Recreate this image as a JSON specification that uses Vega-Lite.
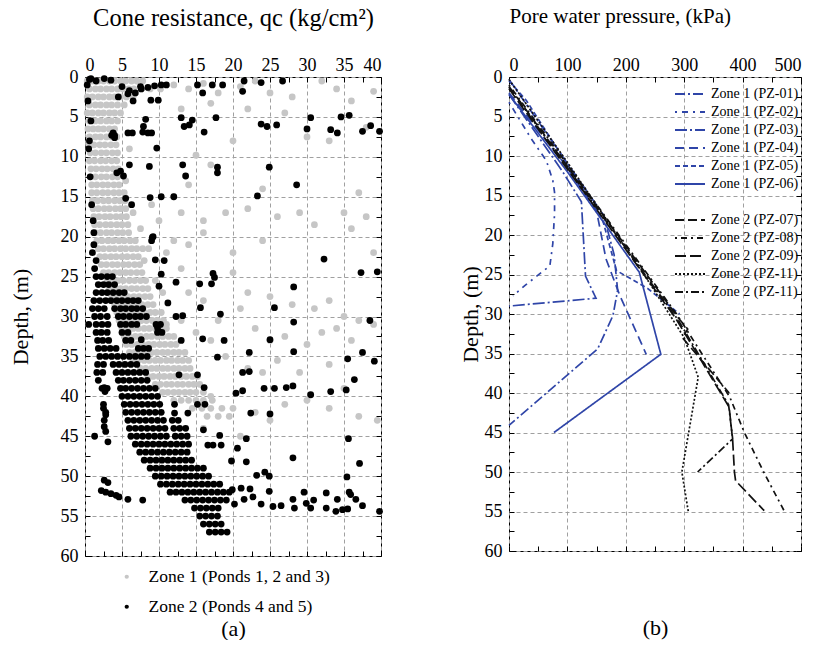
{
"$schema":"https://vega.github.io/schema/vega-lite/v6.json",
"padding":{"left":8,"top":4,"right":5,"bottom":0},
"spacing":74,
"resolve":{"scale":{"color":"independent","strokeDash":"independent"},"legend":{"color":"independent","strokeDash":"independent"}},
"config":{"font":"Liberation Serif","view":{"stroke":"#000","strokeWidth":1},
"axis":{"labelFont":"Liberation Serif","titleFont":"Liberation Serif","labelFontSize":18,"titleFontSize":22,"titleFontWeight":"normal","labelColor":"#000","titleColor":"#000","tickColor":"#000","domain":false,"gridColor":"#a0a0a0","gridDash":[4,3],"gridWidth":1}},
"hconcat":[
{"width":296,"height":479,
"data":{"values":[
{"z":1,"q":0.3,"d":0.5},{"z":1,"q":1.0,"d":0.5},{"z":1,"q":1.8,"d":0.5},{"z":1,"q":2.5,"d":0.5},{"z":1,"q":3.3,"d":0.5},{"z":1,"q":4.0,"d":0.5},{"z":1,"q":4.8,"d":0.5},{"z":1,"q":5.5,"d":0.5},{"z":1,"q":6.3,"d":0.5},{"z":1,"q":7.0,"d":0.5},{"z":1,"q":7.8,"d":0.5},
{"z":1,"q":0.6,"d":1.5},{"z":1,"q":1.4,"d":1.5},{"z":1,"q":2.1,"d":1.5},{"z":1,"q":2.9,"d":1.5},{"z":1,"q":3.6,"d":1.5},{"z":1,"q":4.4,"d":1.5},{"z":1,"q":5.1,"d":1.5},{"z":1,"q":5.9,"d":1.5},{"z":1,"q":6.6,"d":1.5},{"z":1,"q":7.6,"d":1.5},{"z":1,"q":8.8,"d":1.5},{"z":1,"q":10.2,"d":1.5},
{"z":1,"q":0.3,"d":2.5},{"z":1,"q":1.0,"d":2.5},{"z":1,"q":1.8,"d":2.5},{"z":1,"q":2.5,"d":2.5},{"z":1,"q":3.3,"d":2.5},{"z":1,"q":4.0,"d":2.5},{"z":1,"q":4.8,"d":2.5},{"z":1,"q":5.6,"d":2.5},{"z":1,"q":6.5,"d":2.5},
{"z":1,"q":0.6,"d":3.5},{"z":1,"q":1.4,"d":3.5},{"z":1,"q":2.1,"d":3.5},{"z":1,"q":2.9,"d":3.5},{"z":1,"q":3.6,"d":3.5},{"z":1,"q":4.4,"d":3.5},{"z":1,"q":5.3,"d":3.5},
{"z":1,"q":0.3,"d":4.5},{"z":1,"q":1.0,"d":4.5},{"z":1,"q":1.8,"d":4.5},{"z":1,"q":2.5,"d":4.5},{"z":1,"q":3.3,"d":4.5},{"z":1,"q":4.0,"d":4.5},{"z":1,"q":4.8,"d":4.5},
{"z":1,"q":0.6,"d":5.5},{"z":1,"q":1.4,"d":5.5},{"z":1,"q":2.1,"d":5.5},{"z":1,"q":2.9,"d":5.5},{"z":1,"q":3.6,"d":5.5},{"z":1,"q":4.4,"d":5.5},
{"z":1,"q":0.4,"d":6.5},{"z":1,"q":1.1,"d":6.5},{"z":1,"q":1.8,"d":6.5},{"z":1,"q":2.5,"d":6.5},{"z":1,"q":3.3,"d":6.5},{"z":1,"q":4.0,"d":6.5},
{"z":1,"q":0.6,"d":7.5},{"z":1,"q":1.4,"d":7.5},{"z":1,"q":2.1,"d":7.5},{"z":1,"q":2.9,"d":7.5},{"z":1,"q":3.6,"d":7.5},{"z":1,"q":4.3,"d":7.5},
{"z":1,"q":0.5,"d":8.5},{"z":1,"q":1.2,"d":8.5},{"z":1,"q":2.0,"d":8.5},{"z":1,"q":2.7,"d":8.5},{"z":1,"q":3.5,"d":8.5},{"z":1,"q":4.2,"d":8.5},
{"z":1,"q":0.7,"d":9.5},{"z":1,"q":1.4,"d":9.5},{"z":1,"q":2.2,"d":9.5},{"z":1,"q":2.9,"d":9.5},{"z":1,"q":3.7,"d":9.5},{"z":1,"q":4.4,"d":9.5},
{"z":1,"q":0.6,"d":10.5},{"z":1,"q":1.3,"d":10.5},{"z":1,"q":2.1,"d":10.5},{"z":1,"q":2.8,"d":10.5},{"z":1,"q":3.6,"d":10.5},{"z":1,"q":4.3,"d":10.5},
{"z":1,"q":0.8,"d":11.5},{"z":1,"q":1.5,"d":11.5},{"z":1,"q":2.3,"d":11.5},{"z":1,"q":3.0,"d":11.5},{"z":1,"q":3.8,"d":11.5},{"z":1,"q":4.5,"d":11.5},
{"z":1,"q":0.7,"d":12.5},{"z":1,"q":1.4,"d":12.5},{"z":1,"q":2.2,"d":12.5},{"z":1,"q":2.9,"d":12.5},{"z":1,"q":3.7,"d":12.5},{"z":1,"q":4.4,"d":12.5},
{"z":1,"q":0.9,"d":13.5},{"z":1,"q":1.6,"d":13.5},{"z":1,"q":2.4,"d":13.5},{"z":1,"q":3.1,"d":13.5},{"z":1,"q":3.9,"d":13.5},{"z":1,"q":4.6,"d":13.5},
{"z":1,"q":0.9,"d":14.5},{"z":1,"q":1.6,"d":14.5},{"z":1,"q":2.4,"d":14.5},{"z":1,"q":3.1,"d":14.5},{"z":1,"q":3.9,"d":14.5},{"z":1,"q":4.6,"d":14.5},{"z":1,"q":5.3,"d":14.5},
{"z":1,"q":1.0,"d":15.5},{"z":1,"q":1.7,"d":15.5},{"z":1,"q":2.5,"d":15.5},{"z":1,"q":3.2,"d":15.5},{"z":1,"q":4.0,"d":15.5},{"z":1,"q":4.7,"d":15.5},{"z":1,"q":5.4,"d":15.5},
{"z":1,"q":1.1,"d":16.5},{"z":1,"q":1.8,"d":16.5},{"z":1,"q":2.6,"d":16.5},{"z":1,"q":3.3,"d":16.5},{"z":1,"q":4.1,"d":16.5},{"z":1,"q":4.8,"d":16.5},{"z":1,"q":5.5,"d":16.5},
{"z":1,"q":1.2,"d":17.5},{"z":1,"q":1.9,"d":17.5},{"z":1,"q":2.7,"d":17.5},{"z":1,"q":3.4,"d":17.5},{"z":1,"q":4.2,"d":17.5},{"z":1,"q":4.9,"d":17.5},{"z":1,"q":5.6,"d":17.5},
{"z":1,"q":1.3,"d":18.5},{"z":1,"q":2.0,"d":18.5},{"z":1,"q":2.8,"d":18.5},{"z":1,"q":3.5,"d":18.5},{"z":1,"q":4.3,"d":18.5},{"z":1,"q":5.0,"d":18.5},{"z":1,"q":5.8,"d":18.5},
{"z":1,"q":1.4,"d":19.5},{"z":1,"q":2.1,"d":19.5},{"z":1,"q":2.9,"d":19.5},{"z":1,"q":3.6,"d":19.5},{"z":1,"q":4.4,"d":19.5},{"z":1,"q":5.1,"d":19.5},{"z":1,"q":5.9,"d":19.5},
{"z":1,"q":1.6,"d":20.5},{"z":1,"q":2.3,"d":20.5},{"z":1,"q":3.1,"d":20.5},{"z":1,"q":3.8,"d":20.5},{"z":1,"q":4.6,"d":20.5},{"z":1,"q":5.3,"d":20.5},{"z":1,"q":6.1,"d":20.5},{"z":1,"q":6.8,"d":20.5},
{"z":1,"q":1.8,"d":21.5},{"z":1,"q":2.5,"d":21.5},{"z":1,"q":3.3,"d":21.5},{"z":1,"q":4.0,"d":21.5},{"z":1,"q":4.8,"d":21.5},{"z":1,"q":5.5,"d":21.5},{"z":1,"q":6.3,"d":21.5},{"z":1,"q":7.0,"d":21.5},{"z":1,"q":7.8,"d":21.5},{"z":1,"q":8.6,"d":21.5},
{"z":1,"q":2.0,"d":22.5},{"z":1,"q":2.7,"d":22.5},{"z":1,"q":3.5,"d":22.5},{"z":1,"q":4.2,"d":22.5},{"z":1,"q":5.0,"d":22.5},{"z":1,"q":5.7,"d":22.5},{"z":1,"q":6.5,"d":22.5},{"z":1,"q":7.2,"d":22.5},
{"z":1,"q":2.2,"d":23.5},{"z":1,"q":2.9,"d":23.5},{"z":1,"q":3.7,"d":23.5},{"z":1,"q":4.4,"d":23.5},{"z":1,"q":5.2,"d":23.5},{"z":1,"q":5.9,"d":23.5},{"z":1,"q":6.7,"d":23.5},{"z":1,"q":7.4,"d":23.5},
{"z":1,"q":2.5,"d":24.5},{"z":1,"q":3.2,"d":24.5},{"z":1,"q":4.0,"d":24.5},{"z":1,"q":4.7,"d":24.5},{"z":1,"q":5.5,"d":24.5},{"z":1,"q":6.2,"d":24.5},{"z":1,"q":7.0,"d":24.5},{"z":1,"q":7.7,"d":24.5},
{"z":1,"q":3.0,"d":25.5},{"z":1,"q":3.7,"d":25.5},{"z":1,"q":4.5,"d":25.5},{"z":1,"q":5.2,"d":25.5},{"z":1,"q":6.0,"d":25.5},{"z":1,"q":6.7,"d":25.5},{"z":1,"q":7.5,"d":25.5},{"z":1,"q":8.2,"d":25.5},
{"z":1,"q":3.3,"d":26.5},{"z":1,"q":4.0,"d":26.5},{"z":1,"q":4.8,"d":26.5},{"z":1,"q":5.5,"d":26.5},{"z":1,"q":6.3,"d":26.5},{"z":1,"q":7.0,"d":26.5},{"z":1,"q":7.8,"d":26.5},{"z":1,"q":8.5,"d":26.5},
{"z":1,"q":3.6,"d":27.5},{"z":1,"q":4.3,"d":27.5},{"z":1,"q":5.1,"d":27.5},{"z":1,"q":5.8,"d":27.5},{"z":1,"q":6.6,"d":27.5},{"z":1,"q":7.3,"d":27.5},{"z":1,"q":8.1,"d":27.5},{"z":1,"q":8.8,"d":27.5},
{"z":1,"q":4.0,"d":28.5},{"z":1,"q":4.7,"d":28.5},{"z":1,"q":5.5,"d":28.5},{"z":1,"q":6.2,"d":28.5},{"z":1,"q":7.0,"d":28.5},{"z":1,"q":7.7,"d":28.5},{"z":1,"q":8.5,"d":28.5},{"z":1,"q":9.2,"d":28.5},
{"z":1,"q":4.3,"d":29.5},{"z":1,"q":5.0,"d":29.5},{"z":1,"q":5.8,"d":29.5},{"z":1,"q":6.5,"d":29.5},{"z":1,"q":7.3,"d":29.5},{"z":1,"q":8.0,"d":29.5},{"z":1,"q":8.8,"d":29.5},{"z":1,"q":9.5,"d":29.5},{"z":1,"q":10.3,"d":29.5},
{"z":1,"q":4.6,"d":30.5},{"z":1,"q":5.3,"d":30.5},{"z":1,"q":6.1,"d":30.5},{"z":1,"q":6.8,"d":30.5},{"z":1,"q":7.6,"d":30.5},{"z":1,"q":8.3,"d":30.5},{"z":1,"q":9.1,"d":30.5},{"z":1,"q":9.8,"d":30.5},{"z":1,"q":10.6,"d":30.5},
{"z":1,"q":5.0,"d":31.5},{"z":1,"q":5.7,"d":31.5},{"z":1,"q":6.5,"d":31.5},{"z":1,"q":7.2,"d":31.5},{"z":1,"q":8.0,"d":31.5},{"z":1,"q":8.7,"d":31.5},{"z":1,"q":9.5,"d":31.5},{"z":1,"q":10.2,"d":31.5},{"z":1,"q":11.0,"d":31.5},
{"z":1,"q":5.3,"d":32.5},{"z":1,"q":6.0,"d":32.5},{"z":1,"q":6.8,"d":32.5},{"z":1,"q":7.5,"d":32.5},{"z":1,"q":8.3,"d":32.5},{"z":1,"q":9.0,"d":32.5},{"z":1,"q":9.8,"d":32.5},{"z":1,"q":10.5,"d":32.5},{"z":1,"q":11.3,"d":32.5},{"z":1,"q":12.0,"d":32.5},
{"z":1,"q":5.6,"d":33.5},{"z":1,"q":6.3,"d":33.5},{"z":1,"q":7.1,"d":33.5},{"z":1,"q":7.8,"d":33.5},{"z":1,"q":8.6,"d":33.5},{"z":1,"q":9.3,"d":33.5},{"z":1,"q":10.1,"d":33.5},{"z":1,"q":10.8,"d":33.5},{"z":1,"q":11.6,"d":33.5},{"z":1,"q":12.3,"d":33.5},
{"z":1,"q":6.0,"d":34.5},{"z":1,"q":6.7,"d":34.5},{"z":1,"q":7.5,"d":34.5},{"z":1,"q":8.2,"d":34.5},{"z":1,"q":9.0,"d":34.5},{"z":1,"q":9.7,"d":34.5},{"z":1,"q":10.5,"d":34.5},{"z":1,"q":11.2,"d":34.5},{"z":1,"q":12.0,"d":34.5},{"z":1,"q":12.7,"d":34.5},{"z":1,"q":13.5,"d":34.5},
{"z":1,"q":6.5,"d":35.5},{"z":1,"q":7.2,"d":35.5},{"z":1,"q":8.0,"d":35.5},{"z":1,"q":8.7,"d":35.5},{"z":1,"q":9.5,"d":35.5},{"z":1,"q":10.2,"d":35.5},{"z":1,"q":11.0,"d":35.5},{"z":1,"q":11.7,"d":35.5},{"z":1,"q":12.5,"d":35.5},{"z":1,"q":13.2,"d":35.5},{"z":1,"q":14.0,"d":35.5},
{"z":1,"q":7.5,"d":36.5},{"z":1,"q":8.2,"d":36.5},{"z":1,"q":9.0,"d":36.5},{"z":1,"q":9.7,"d":36.5},{"z":1,"q":10.5,"d":36.5},{"z":1,"q":11.2,"d":36.5},{"z":1,"q":12.0,"d":36.5},{"z":1,"q":12.7,"d":36.5},{"z":1,"q":13.5,"d":36.5},{"z":1,"q":14.2,"d":36.5},
{"z":1,"q":8.5,"d":37.5},{"z":1,"q":9.2,"d":37.5},{"z":1,"q":10.0,"d":37.5},{"z":1,"q":10.7,"d":37.5},{"z":1,"q":11.5,"d":37.5},{"z":1,"q":12.2,"d":37.5},{"z":1,"q":13.0,"d":37.5},{"z":1,"q":13.7,"d":37.5},{"z":1,"q":14.5,"d":37.5},{"z":1,"q":15.2,"d":37.5},
{"z":1,"q":9.5,"d":38.5},{"z":1,"q":10.2,"d":38.5},{"z":1,"q":11.0,"d":38.5},{"z":1,"q":11.7,"d":38.5},{"z":1,"q":12.5,"d":38.5},{"z":1,"q":13.2,"d":38.5},{"z":1,"q":14.0,"d":38.5},{"z":1,"q":14.7,"d":38.5},{"z":1,"q":15.5,"d":38.5},
{"z":1,"q":10.5,"d":39.5},{"z":1,"q":11.2,"d":39.5},{"z":1,"q":12.0,"d":39.5},{"z":1,"q":12.7,"d":39.5},{"z":1,"q":13.5,"d":39.5},{"z":1,"q":14.2,"d":39.5},{"z":1,"q":15.0,"d":39.5},{"z":1,"q":16.0,"d":39.5},
{"z":1,"q":12.0,"d":40.5},{"z":1,"q":13.0,"d":40.5},{"z":1,"q":14.0,"d":40.5},{"z":1,"q":15.0,"d":40.5},{"z":1,"q":16.0,"d":40.5},{"z":1,"q":17.2,"d":40.5},
{"z":1,"q":14.5,"d":41.5},{"z":1,"q":15.8,"d":41.5},{"z":1,"q":17.0,"d":41.5},{"z":1,"q":18.5,"d":41.5},
{"z":1,"q":16.5,"d":42.5},{"z":1,"q":18.0,"d":42.5},{"z":1,"q":19.5,"d":42.5},
{"z":1,"q":12,"d":1},{"z":1,"q":14,"d":1.5},{"z":1,"q":16,"d":0.8},{"z":1,"q":18,"d":2},{"z":1,"q":21,"d":1.2},{"z":1,"q":23,"d":0.5},{"z":1,"q":25,"d":2},{"z":1,"q":28,"d":2.5},{"z":1,"q":32,"d":0.5},{"z":1,"q":34,"d":1.5},{"z":1,"q":36,"d":3},{"z":1,"q":39,"d":1.8},{"z":1,"q":13,"d":4},{"z":1,"q":17,"d":3.3},{"z":1,"q":22,"d":4},{"z":1,"q":27,"d":4.5},{"z":1,"q":38,"d":6.3},{"z":1,"q":33,"d":8},{"z":1,"q":30,"d":7.5},{"z":1,"q":15,"d":9.8},{"z":1,"q":17,"d":11},{"z":1,"q":20,"d":8},{"z":1,"q":14,"d":13.5},{"z":1,"q":24,"d":14},{"z":1,"q":37,"d":14.5},{"z":1,"q":12,"d":15},{"z":1,"q":9,"d":16},{"z":1,"q":13,"d":17},{"z":1,"q":16,"d":18},{"z":1,"q":19,"d":17},{"z":1,"q":22,"d":16.5},{"z":1,"q":26,"d":17.5},{"z":1,"q":29,"d":17},{"z":1,"q":31,"d":18.5},{"z":1,"q":35,"d":17},{"z":1,"q":38,"d":17.5},{"z":1,"q":36,"d":19},{"z":1,"q":39,"d":22},{"z":1,"q":12,"d":20.5},{"z":1,"q":14,"d":21},{"z":1,"q":16,"d":19.5},{"z":1,"q":20,"d":22},{"z":1,"q":24,"d":20.5},{"z":1,"q":7.5,"d":19},{"z":1,"q":10,"d":18},{"z":1,"q":11,"d":22},{"z":1,"q":13,"d":24},{"z":1,"q":20,"d":24.5},{"z":1,"q":22,"d":27},{"z":1,"q":25,"d":27.5},{"z":1,"q":28,"d":28.5},{"z":1,"q":31,"d":29},{"z":1,"q":33,"d":28},{"z":1,"q":35,"d":30},{"z":1,"q":37,"d":30.5},{"z":1,"q":39,"d":31},{"z":1,"q":14,"d":27},{"z":1,"q":16,"d":28},{"z":1,"q":18,"d":30.5},{"z":1,"q":21,"d":29},{"z":1,"q":23,"d":31.5},{"z":1,"q":25,"d":33},{"z":1,"q":27,"d":32.5},{"z":1,"q":30,"d":33.5},{"z":1,"q":32,"d":32},{"z":1,"q":34,"d":31.5},{"z":1,"q":36,"d":33},{"z":1,"q":11,"d":31},{"z":1,"q":13,"d":30.5},{"z":1,"q":15,"d":32},{"z":1,"q":17,"d":33},{"z":1,"q":19,"d":35},{"z":1,"q":22,"d":36.5},{"z":1,"q":24,"d":37},{"z":1,"q":26,"d":35.5},{"z":1,"q":29,"d":37},{"z":1,"q":33,"d":36},{"z":1,"q":35,"d":39},{"z":1,"q":17,"d":40},{"z":1,"q":20,"d":41.5},{"z":1,"q":23,"d":42},{"z":1,"q":25,"d":43},{"z":1,"q":27,"d":41},{"z":1,"q":30,"d":40.5},{"z":1,"q":33,"d":41.5},{"z":1,"q":37,"d":42.5},{"z":1,"q":39.5,"d":43},{"z":1,"q":16,"d":44},{"z":1,"q":21,"d":45},{"z":1,"q":6,"d":9},{"z":1,"q":5.5,"d":13},{"z":1,"q":6.5,"d":17},{"z":1,"q":8,"d":23},{"z":1,"q":9.5,"d":25.5},{"z":1,"q":10.5,"d":27},
{"z":2,"q":1.5,"d":25},{"z":2,"q":2.2,"d":25},{"z":2,"q":3.0,"d":25},{"z":2,"q":3.7,"d":25},
{"z":2,"q":1.8,"d":26},{"z":2,"q":2.5,"d":26},{"z":2,"q":3.2,"d":26},{"z":2,"q":4.0,"d":26},
{"z":2,"q":1.5,"d":27},{"z":2,"q":2.3,"d":27},{"z":2,"q":3.0,"d":27},{"z":2,"q":3.8,"d":27},{"z":2,"q":4.6,"d":27},{"z":2,"q":5.3,"d":27},
{"z":2,"q":1.2,"d":28},{"z":2,"q":2.0,"d":28},{"z":2,"q":2.8,"d":28},{"z":2,"q":3.5,"d":28},{"z":2,"q":4.3,"d":28},{"z":2,"q":5.0,"d":28},{"z":2,"q":5.8,"d":28},{"z":2,"q":6.5,"d":28},{"z":2,"q":7.2,"d":28},
{"z":2,"q":1.0,"d":29},{"z":2,"q":1.8,"d":29},{"z":2,"q":2.6,"d":29},{"z":2,"q":4.0,"d":29},{"z":2,"q":4.8,"d":29},{"z":2,"q":5.5,"d":29},{"z":2,"q":6.3,"d":29},{"z":2,"q":7.0,"d":29},{"z":2,"q":7.8,"d":29},
{"z":2,"q":1.3,"d":30},{"z":2,"q":2.1,"d":30},{"z":2,"q":3.0,"d":30},{"z":2,"q":4.5,"d":30},{"z":2,"q":5.2,"d":30},{"z":2,"q":6.0,"d":30},{"z":2,"q":6.8,"d":30},{"z":2,"q":7.5,"d":30},{"z":2,"q":8.3,"d":30},
{"z":2,"q":1.5,"d":31},{"z":2,"q":2.3,"d":31},{"z":2,"q":3.1,"d":31},{"z":2,"q":4.8,"d":31},{"z":2,"q":5.5,"d":31},{"z":2,"q":6.3,"d":31},{"z":2,"q":7.0,"d":31},{"z":2,"q":9.6,"d":31},{"z":2,"q":10.2,"d":31},
{"z":2,"q":1.5,"d":32},{"z":2,"q":2.2,"d":32},{"z":2,"q":3.0,"d":32},{"z":2,"q":5.0,"d":32},{"z":2,"q":5.8,"d":32},{"z":2,"q":9.8,"d":32},{"z":2,"q":10.4,"d":32},
{"z":2,"q":1.7,"d":33},{"z":2,"q":2.4,"d":33},{"z":2,"q":3.2,"d":33},{"z":2,"q":5.5,"d":33},{"z":2,"q":6.2,"d":33},
{"z":2,"q":1.8,"d":34},{"z":2,"q":2.6,"d":34},{"z":2,"q":3.4,"d":34},{"z":2,"q":4.2,"d":34},{"z":2,"q":7.2,"d":34},{"z":2,"q":7.9,"d":34},{"z":2,"q":8.6,"d":34},
{"z":2,"q":2.0,"d":35},{"z":2,"q":2.8,"d":35},{"z":2,"q":3.6,"d":35},{"z":2,"q":4.4,"d":35},{"z":2,"q":5.2,"d":35},{"z":2,"q":6.0,"d":35},{"z":2,"q":6.8,"d":35},{"z":2,"q":7.6,"d":35},{"z":2,"q":8.4,"d":35},
{"z":2,"q":1.7,"d":36},{"z":2,"q":2.5,"d":36},{"z":2,"q":3.8,"d":36},{"z":2,"q":4.6,"d":36},{"z":2,"q":5.4,"d":36},{"z":2,"q":6.2,"d":36},{"z":2,"q":7.0,"d":36},
{"z":2,"q":1.6,"d":37},{"z":2,"q":2.4,"d":37},{"z":2,"q":4.2,"d":37},{"z":2,"q":5.0,"d":37},{"z":2,"q":5.8,"d":37},{"z":2,"q":6.6,"d":37},{"z":2,"q":7.4,"d":37},{"z":2,"q":8.2,"d":37},
{"z":2,"q":1.8,"d":38},{"z":2,"q":4.5,"d":38},{"z":2,"q":5.2,"d":38},{"z":2,"q":6.0,"d":38},{"z":2,"q":6.8,"d":38},{"z":2,"q":7.6,"d":38},{"z":2,"q":8.4,"d":38},
{"z":2,"q":2.3,"d":39},{"z":2,"q":3.0,"d":39},{"z":2,"q":4.8,"d":39},{"z":2,"q":5.5,"d":39},{"z":2,"q":6.3,"d":39},{"z":2,"q":7.1,"d":39},{"z":2,"q":7.9,"d":39},{"z":2,"q":8.7,"d":39},{"z":2,"q":9.5,"d":39},
{"z":2,"q":5.0,"d":40},{"z":2,"q":5.8,"d":40},{"z":2,"q":6.6,"d":40},{"z":2,"q":7.4,"d":40},{"z":2,"q":8.2,"d":40},{"z":2,"q":9.0,"d":40},{"z":2,"q":9.8,"d":40},
{"z":2,"q":2.5,"d":41},{"z":2,"q":5.3,"d":41},{"z":2,"q":6.1,"d":41},{"z":2,"q":6.9,"d":41},{"z":2,"q":7.7,"d":41},{"z":2,"q":8.5,"d":41},{"z":2,"q":9.3,"d":41},{"z":2,"q":10.1,"d":41},
{"z":2,"q":2.8,"d":42},{"z":2,"q":5.5,"d":42},{"z":2,"q":6.3,"d":42},{"z":2,"q":7.1,"d":42},{"z":2,"q":7.9,"d":42},{"z":2,"q":8.7,"d":42},{"z":2,"q":9.5,"d":42},{"z":2,"q":10.3,"d":42},
{"z":2,"q":2.6,"d":43},{"z":2,"q":5.8,"d":43},{"z":2,"q":6.6,"d":43},{"z":2,"q":7.4,"d":43},{"z":2,"q":8.2,"d":43},{"z":2,"q":9.0,"d":43},{"z":2,"q":9.8,"d":43},{"z":2,"q":10.6,"d":43},{"z":2,"q":11.8,"d":43},{"z":2,"q":12.6,"d":43},
{"z":2,"q":6.0,"d":44},{"z":2,"q":6.8,"d":44},{"z":2,"q":7.6,"d":44},{"z":2,"q":8.4,"d":44},{"z":2,"q":9.2,"d":44},{"z":2,"q":10.0,"d":44},{"z":2,"q":10.8,"d":44},{"z":2,"q":12.0,"d":44},{"z":2,"q":12.8,"d":44},{"z":2,"q":13.6,"d":44},
{"z":2,"q":6.2,"d":45},{"z":2,"q":7.0,"d":45},{"z":2,"q":7.8,"d":45},{"z":2,"q":8.6,"d":45},{"z":2,"q":9.4,"d":45},{"z":2,"q":10.2,"d":45},{"z":2,"q":11.0,"d":45},{"z":2,"q":12.2,"d":45},{"z":2,"q":13.0,"d":45},{"z":2,"q":13.8,"d":45},
{"z":2,"q":6.8,"d":46},{"z":2,"q":7.6,"d":46},{"z":2,"q":8.4,"d":46},{"z":2,"q":9.2,"d":46},{"z":2,"q":10.0,"d":46},{"z":2,"q":10.8,"d":46},{"z":2,"q":11.6,"d":46},{"z":2,"q":12.4,"d":46},{"z":2,"q":13.2,"d":46},{"z":2,"q":14.0,"d":46},
{"z":2,"q":7.4,"d":47},{"z":2,"q":8.2,"d":47},{"z":2,"q":9.0,"d":47},{"z":2,"q":9.8,"d":47},{"z":2,"q":10.6,"d":47},{"z":2,"q":11.4,"d":47},{"z":2,"q":12.2,"d":47},{"z":2,"q":13.0,"d":47},{"z":2,"q":13.8,"d":47},
{"z":2,"q":8.0,"d":48},{"z":2,"q":8.8,"d":48},{"z":2,"q":9.6,"d":48},{"z":2,"q":10.4,"d":48},{"z":2,"q":11.2,"d":48},{"z":2,"q":12.0,"d":48},{"z":2,"q":12.8,"d":48},{"z":2,"q":13.6,"d":48},{"z":2,"q":14.4,"d":48},
{"z":2,"q":8.8,"d":49},{"z":2,"q":9.6,"d":49},{"z":2,"q":10.4,"d":49},{"z":2,"q":11.2,"d":49},{"z":2,"q":12.0,"d":49},{"z":2,"q":12.8,"d":49},{"z":2,"q":13.6,"d":49},{"z":2,"q":14.4,"d":49},{"z":2,"q":15.2,"d":49},{"z":2,"q":16.0,"d":49},
{"z":2,"q":9.5,"d":50},{"z":2,"q":10.3,"d":50},{"z":2,"q":11.1,"d":50},{"z":2,"q":11.9,"d":50},{"z":2,"q":12.7,"d":50},{"z":2,"q":13.5,"d":50},{"z":2,"q":14.3,"d":50},{"z":2,"q":15.1,"d":50},{"z":2,"q":15.9,"d":50},{"z":2,"q":16.7,"d":50},
{"z":2,"q":10.2,"d":51},{"z":2,"q":11.0,"d":51},{"z":2,"q":11.8,"d":51},{"z":2,"q":12.6,"d":51},{"z":2,"q":13.4,"d":51},{"z":2,"q":14.2,"d":51},{"z":2,"q":15.0,"d":51},{"z":2,"q":15.8,"d":51},{"z":2,"q":16.6,"d":51},{"z":2,"q":17.4,"d":51},{"z":2,"q":18.2,"d":51},
{"z":2,"q":11.5,"d":52},{"z":2,"q":12.3,"d":52},{"z":2,"q":13.1,"d":52},{"z":2,"q":13.9,"d":52},{"z":2,"q":14.7,"d":52},{"z":2,"q":15.5,"d":52},{"z":2,"q":16.3,"d":52},{"z":2,"q":17.1,"d":52},{"z":2,"q":17.9,"d":52},{"z":2,"q":18.7,"d":52},{"z":2,"q":19.5,"d":52},
{"z":2,"q":13.5,"d":53},{"z":2,"q":14.3,"d":53},{"z":2,"q":15.1,"d":53},{"z":2,"q":15.9,"d":53},{"z":2,"q":16.7,"d":53},{"z":2,"q":17.5,"d":53},{"z":2,"q":18.3,"d":53},{"z":2,"q":19.1,"d":53},
{"z":2,"q":14.8,"d":54},{"z":2,"q":15.6,"d":54},{"z":2,"q":16.4,"d":54},{"z":2,"q":17.2,"d":54},{"z":2,"q":18.0,"d":54},
{"z":2,"q":15.5,"d":55},{"z":2,"q":16.3,"d":55},{"z":2,"q":17.1,"d":55},{"z":2,"q":17.9,"d":55},
{"z":2,"q":16.0,"d":56},{"z":2,"q":16.8,"d":56},{"z":2,"q":17.6,"d":56},{"z":2,"q":18.4,"d":56},
{"z":2,"q":16.8,"d":57},{"z":2,"q":17.6,"d":57},{"z":2,"q":18.4,"d":57},{"z":2,"q":19.2,"d":57},
{"z":2,"q":0.8,"d":0.2},{"z":2,"q":2.6,"d":0.2},{"z":2,"q":8.5,"d":1.3},{"z":2,"q":9.4,"d":1.1},{"z":2,"q":10.3,"d":1},{"z":2,"q":11,"d":1},{"z":2,"q":15.2,"d":1},{"z":2,"q":17.2,"d":1},{"z":2,"q":18.6,"d":1},{"z":2,"q":21.5,"d":0.5},{"z":2,"q":23.8,"d":0.7},{"z":2,"q":26.7,"d":0.5},{"z":2,"q":21.3,"d":1.8},{"z":2,"q":15.9,"d":2},{"z":2,"q":7.6,"d":1.5},{"z":2,"q":5.8,"d":2.1},{"z":2,"q":8.9,"d":2.9},{"z":2,"q":9.9,"d":2.9},{"z":2,"q":8.2,"d":5.3},{"z":2,"q":13,"d":5.1},{"z":2,"q":14.5,"d":5.4},{"z":2,"q":17.7,"d":5.1},{"z":2,"q":30.5,"d":5.1},{"z":2,"q":34.6,"d":5},{"z":2,"q":35.7,"d":4.8},{"z":2,"q":7.9,"d":6.2},{"z":2,"q":13.4,"d":6.2},{"z":2,"q":14.1,"d":6},{"z":2,"q":16.1,"d":6.9},{"z":2,"q":23.8,"d":5.9},{"z":2,"q":24.6,"d":6.2},{"z":2,"q":25.9,"d":6},{"z":2,"q":30,"d":6.5},{"z":2,"q":33.2,"d":6.6},{"z":2,"q":34.1,"d":7},{"z":2,"q":37.5,"d":6.8},{"z":2,"q":38.6,"d":6.1},{"z":2,"q":39.8,"d":6.8},{"z":2,"q":4,"d":7.3},{"z":2,"q":5.8,"d":7},{"z":2,"q":6.4,"d":7},{"z":2,"q":7.8,"d":6.9},{"z":2,"q":8.5,"d":7},{"z":2,"q":9,"d":7},{"z":2,"q":9.7,"d":8.9},{"z":2,"q":8.7,"d":11.2},{"z":2,"q":13.2,"d":11},{"z":2,"q":13.6,"d":12.4},{"z":2,"q":17.9,"d":11.3},{"z":2,"q":17.9,"d":12},{"z":2,"q":24.9,"d":11.3},{"z":2,"q":28.6,"d":13.5},{"z":2,"q":8.8,"d":15.1},{"z":2,"q":10.3,"d":15},{"z":2,"q":12,"d":15},{"z":2,"q":23.3,"d":14.9},{"z":2,"q":9.1,"d":20.1},{"z":2,"q":10.7,"d":23},{"z":2,"q":9.5,"d":22.9},{"z":2,"q":32.3,"d":22.8},{"z":2,"q":10.3,"d":24.7},{"z":2,"q":17.3,"d":24.6},{"z":2,"q":17.5,"d":25.1},{"z":2,"q":37.3,"d":24.5},{"z":2,"q":39.5,"d":24.4},{"z":2,"q":10,"d":26.2},{"z":2,"q":12.3,"d":25.7},{"z":2,"q":15.5,"d":25.9},{"z":2,"q":17.1,"d":25.9},{"z":2,"q":28.2,"d":26.3},{"z":2,"q":11.2,"d":28.3},{"z":2,"q":15.6,"d":28.9},{"z":2,"q":25.6,"d":28.9},{"z":2,"q":18.3,"d":29.7},{"z":2,"q":12.3,"d":30},{"z":2,"q":13.2,"d":29.9},{"z":2,"q":0.5,"d":31},{"z":2,"q":28.2,"d":30.7},{"z":2,"q":38.5,"d":30.5},{"z":2,"q":9.8,"d":31.4},{"z":2,"q":10,"d":31.9},{"z":2,"q":13,"d":33},{"z":2,"q":15.9,"d":32.8},{"z":2,"q":18.8,"d":33},{"z":2,"q":25,"d":32.9},{"z":2,"q":7.6,"d":32.9},{"z":2,"q":17.9,"d":35.1},{"z":2,"q":22.2,"d":34.5},{"z":2,"q":28.2,"d":34.4},{"z":2,"q":35.5,"d":35.3},{"z":2,"q":37.5,"d":34.5},{"z":2,"q":39.1,"d":35.6},{"z":2,"q":12.7,"d":37.3},{"z":2,"q":15.2,"d":37.3},{"z":2,"q":21.3,"d":37},{"z":2,"q":22.2,"d":36.9},{"z":2,"q":36.4,"d":37.9},{"z":2,"q":16.1,"d":38.9},{"z":2,"q":20.4,"d":39.6},{"z":2,"q":21.3,"d":39.3},{"z":2,"q":24.2,"d":39},{"z":2,"q":25.6,"d":39},{"z":2,"q":27.2,"d":38.9},{"z":2,"q":28.1,"d":38.7},{"z":2,"q":30.5,"d":39.8},{"z":2,"q":33.2,"d":39.4},{"z":2,"q":35.3,"d":39.2},{"z":2,"q":12.1,"d":41},{"z":2,"q":13.9,"d":42.1},{"z":2,"q":15.2,"d":41},{"z":2,"q":16.2,"d":41},{"z":2,"q":22.4,"d":42.1},{"z":2,"q":25,"d":42.2},{"z":2,"q":12.1,"d":42.1},{"z":2,"q":16,"d":44.2},{"z":2,"q":18.2,"d":44.9},{"z":2,"q":21.8,"d":45.3},{"z":2,"q":35.6,"d":45.3},{"z":2,"q":20.6,"d":46.5},{"z":2,"q":17.3,"d":46.1},{"z":2,"q":18.4,"d":46.1},{"z":2,"q":16.6,"d":46.1},{"z":2,"q":19.8,"d":48.1},{"z":2,"q":21.8,"d":48.2},{"z":2,"q":28.1,"d":47.7},{"z":2,"q":37.1,"d":48.4},{"z":2,"q":23.2,"d":49.9},{"z":2,"q":24.3,"d":49.5},{"z":2,"q":24.9,"d":50},{"z":2,"q":35.4,"d":50.1},{"z":2,"q":19.9,"d":51.7},{"z":2,"q":21.1,"d":51.5},{"z":2,"q":22.3,"d":51.6},{"z":2,"q":24.9,"d":51.9},{"z":2,"q":29.6,"d":52},{"z":2,"q":32.6,"d":52.1},{"z":2,"q":35.7,"d":52},{"z":2,"q":35.9,"d":52.3},{"z":2,"q":21.5,"d":52.9},{"z":2,"q":22.7,"d":52.6},{"z":2,"q":23.8,"d":53.5},{"z":2,"q":25.4,"d":53.8},{"z":2,"q":26.5,"d":53.7},{"z":2,"q":28.1,"d":52.9},{"z":2,"q":28.3,"d":54},{"z":2,"q":29.9,"d":53.4},{"z":2,"q":30.5,"d":54},{"z":2,"q":30.9,"d":53},{"z":2,"q":32.6,"d":54},{"z":2,"q":33.9,"d":54.4},{"z":2,"q":34.1,"d":52.9},{"z":2,"q":34.8,"d":54.2},{"z":2,"q":35.5,"d":54.1},{"z":2,"q":36.6,"d":52.9},{"z":2,"q":37.5,"d":53.7},{"z":2,"q":39.8,"d":54.4},{"z":2,"q":20.2,"d":53.5},{"z":2,"q":2.2,"d":51.8},{"z":2,"q":2.8,"d":52},{"z":2,"q":3.5,"d":52.2},{"z":2,"q":4.2,"d":52.4},{"z":2,"q":4.6,"d":52.6},{"z":2,"q":5.8,"d":52.9},{"z":2,"q":7.8,"d":53},{"z":2,"q":2.6,"d":50.5},{"z":2,"q":3.1,"d":50.8},{"z":2,"q":1.3,"d":45},{"z":2,"q":2.5,"d":41.5},{"z":2,"q":2.8,"d":42.3},{"z":2,"q":2.6,"d":43.8},{"z":2,"q":2.8,"d":44.4},{"z":2,"q":3.1,"d":45.7},{"z":2,"q":2.6,"d":38.9},{"z":2,"q":2.7,"d":39.4},
{"z":2,"q":3.6,"d":7.3},{"z":2,"q":4.0,"d":7.6},{"z":2,"q":3.8,"d":7.0},{"z":2,"q":4.3,"d":12},{"z":2,"q":4.8,"d":11.8},{"z":2,"q":5.2,"d":12.4},{"z":2,"q":6,"d":11},{"z":2,"q":6.3,"d":16},{"z":2,"q":5.5,"d":15.2},{"z":2,"q":9.2,"d":20},{"z":2,"q":9.0,"d":20.5},{"z":2,"q":0.3,"d":1},{"z":2,"q":0.6,"d":0.3},{"z":2,"q":1.5,"d":0.5},{"z":2,"q":0.8,"d":5.5},{"z":2,"q":0.5,"d":9},{"z":2,"q":0.7,"d":12.5},{"z":2,"q":1.1,"d":18},{"z":2,"q":1.2,"d":19.5},{"z":2,"q":1.0,"d":22},{"z":2,"q":1.3,"d":24},{"z":2,"q":6.5,"d":3},{"z":2,"q":6.8,"d":2},{"z":2,"q":4.5,"d":2.5},{"z":2,"q":5,"d":1.2},{"z":2,"q":6,"d":1.7},{"z":2,"q":7.5,"d":1.2},{"z":2,"q":3.5,"d":0.4},{"z":2,"q":0.4,"d":3},{"z":2,"q":0.6,"d":8},{"z":2,"q":0.9,"d":16},{"z":2,"q":1.2,"d":21},{"z":2,"q":1.5,"d":23}
]},
"layer":[
{"mark":{"type":"circle","size":46,"opacity":1},
"encoding":{
"x":{"field":"q","type":"quantitative","scale":{"domain":[0,40],"nice":false,"zero":false},
"axis":{"orient":"top","values":[0,2.5,5,7.5,10,12.5,15,17.5,20,22.5,25,27.5,30,32.5,35,37.5,40],"labelExpr":"datum.value % 5 === 0 ? datum.label : ''","gridOpacity":{"condition":{"test":"datum.value % 5 !== 0","value":0},"value":1},"tickSize":-5,"labelPadding":8,"labelFont":"Liberation Serif","title":"Cone resistance, qc (kg/cm²)","titleFontSize":24.5,"titlePadding":26}},
"y":{"field":"d","type":"quantitative","scale":{"domain":[0,60],"reverse":true,"nice":false,"zero":false},
"axis":{"orient":"left","values":[0,2.5,5,7.5,10,12.5,15,17.5,20,22.5,25,27.5,30,32.5,35,37.5,40,42.5,45,47.5,50,52.5,55,57.5,60],"labelExpr":"datum.value % 5 === 0 ? datum.label : ''","gridOpacity":{"condition":{"test":"datum.value % 5 !== 0","value":0},"value":1},"tickSize":-5,"labelPadding":12,"labelFont":"Liberation Serif","title":"Depth, (m)","titlePadding":28}},
"color":{"field":"z","type":"nominal","scale":{"domain":[1,2],"range":["#c6c6c6","#000000"]},
"legend":{"orient":"none","legendX":33,"legendY":491,"title":null,"direction":"vertical","symbolType":"circle","symbolSize":18,"labelFontSize":17.5,"labelFont":"Liberation Serif","labelColor":"#000","labelLimit":400,"labelOffset":13,"rowPadding":11,"padding":0,"labelExpr":"datum.value == 1 ? 'Zone 1 (Ponds 1, 2 and 3)' : 'Zone 2 (Ponds 4 and 5)'"}}
}},
{"mark":{"type":"point","opacity":0},
"encoding":{
"x":{"field":"q","type":"quantitative","scale":{"domain":[0,40],"nice":false,"zero":false},
"axis":{"orient":"bottom","values":[0,2.5,5,7.5,10,12.5,15,17.5,20,22.5,25,27.5,30,32.5,35,37.5,40],"labels":false,"grid":false,"tickSize":-5,"title":"(a)","titlePadding":62}},
"y":{"field":"d","type":"quantitative","scale":{"domain":[0,60],"reverse":true,"nice":false,"zero":false},
"axis":{"orient":"right","values":[0,2.5,5,7.5,10,12.5,15,17.5,20,22.5,25,27.5,30,32.5,35,37.5,40,42.5,45,47.5,50,52.5,55,57.5,60],"labels":false,"grid":false,"tickSize":-5,"title":null}}
}}
],
"resolve":{"axis":{"x":"independent","y":"independent"}}
},
{"width":292,"height":474,
"data":{"values":[
{"s":"Zone 1 (PZ-01)","p":0,"d":0.3},{"s":"Zone 1 (PZ-01)","p":30,"d":3.5},{"s":"Zone 1 (PZ-01)","p":96,"d":10.5},{"s":"Zone 1 (PZ-01)","p":162,"d":17.5},{"s":"Zone 1 (PZ-01)","p":180,"d":22.5},{"s":"Zone 1 (PZ-01)","p":186,"d":27},{"s":"Zone 1 (PZ-01)","p":178,"d":30.2},{"s":"Zone 1 (PZ-01)","p":152,"d":34.4},{"s":"Zone 1 (PZ-01)","p":0,"d":44.1},
{"s":"Zone 1 (PZ-02)","p":0,"d":3.2},{"s":"Zone 1 (PZ-02)","p":38,"d":7.8},{"s":"Zone 1 (PZ-02)","p":64,"d":10.6},{"s":"Zone 1 (PZ-02)","p":75,"d":13.1},{"s":"Zone 1 (PZ-02)","p":78,"d":14.6},{"s":"Zone 1 (PZ-02)","p":78,"d":17.3},{"s":"Zone 1 (PZ-02)","p":75,"d":21.1},{"s":"Zone 1 (PZ-02)","p":70,"d":23.9},{"s":"Zone 1 (PZ-02)","p":27,"d":26.4},{"s":"Zone 1 (PZ-02)","p":7,"d":27.7},
{"s":"Zone 1 (PZ-03)","p":0,"d":2.2},{"s":"Zone 1 (PZ-03)","p":92,"d":12},{"s":"Zone 1 (PZ-03)","p":124,"d":15.8},{"s":"Zone 1 (PZ-03)","p":131,"d":25.2},{"s":"Zone 1 (PZ-03)","p":149,"d":28},{"s":"Zone 1 (PZ-03)","p":0,"d":29},
{"s":"Zone 1 (PZ-04)","p":0,"d":2},{"s":"Zone 1 (PZ-04)","p":95,"d":11},{"s":"Zone 1 (PZ-04)","p":150,"d":17},{"s":"Zone 1 (PZ-04)","p":166,"d":23},{"s":"Zone 1 (PZ-04)","p":190,"d":27.7},{"s":"Zone 1 (PZ-04)","p":235,"d":35.1},
{"s":"Zone 1 (PZ-05)","p":0,"d":0.5},{"s":"Zone 1 (PZ-05)","p":30,"d":3},{"s":"Zone 1 (PZ-05)","p":95,"d":10.5},{"s":"Zone 1 (PZ-05)","p":160,"d":18},{"s":"Zone 1 (PZ-05)","p":184,"d":24.5},{"s":"Zone 1 (PZ-05)","p":238,"d":26.8},{"s":"Zone 1 (PZ-05)","p":292,"d":30},
{"s":"Zone 1 (PZ-06)","p":0,"d":2.2},{"s":"Zone 1 (PZ-06)","p":100,"d":12},{"s":"Zone 1 (PZ-06)","p":223,"d":24.7},{"s":"Zone 1 (PZ-06)","p":260,"d":35.1},{"s":"Zone 1 (PZ-06)","p":77,"d":45},
{"s":"Zone 2 (PZ-07)","p":0,"d":1.2},{"s":"Zone 2 (PZ-07)","p":290,"d":30.5},{"s":"Zone 2 (PZ-07)","p":306,"d":31.9},{"s":"Zone 2 (PZ-07)","p":297,"d":33},{"s":"Zone 2 (PZ-07)","p":377,"d":40},
{"s":"Zone 2 (PZ-08)","p":0,"d":1.0},{"s":"Zone 2 (PZ-08)","p":287,"d":30},{"s":"Zone 2 (PZ-08)","p":330,"d":35},{"s":"Zone 2 (PZ-08)","p":378,"d":40.5},{"s":"Zone 2 (PZ-08)","p":403,"d":45},{"s":"Zone 2 (PZ-08)","p":436,"d":50},{"s":"Zone 2 (PZ-08)","p":471,"d":54.9},
{"s":"Zone 2 (PZ-09)","p":0,"d":1.5},{"s":"Zone 2 (PZ-09)","p":285,"d":30.5},{"s":"Zone 2 (PZ-09)","p":330,"d":36},{"s":"Zone 2 (PZ-09)","p":377,"d":41.8},{"s":"Zone 2 (PZ-09)","p":383,"d":46},{"s":"Zone 2 (PZ-09)","p":386,"d":50},{"s":"Zone 2 (PZ-09)","p":388,"d":51.1},{"s":"Zone 2 (PZ-09)","p":437,"d":54.9},
{"s":"Zone 2 (PZ-11)","p":0,"d":0.3},{"s":"Zone 2 (PZ-11)","p":100,"d":10.8},{"s":"Zone 2 (PZ-11)","p":240,"d":26},{"s":"Zone 2 (PZ-11)","p":300,"d":33},{"s":"Zone 2 (PZ-11)","p":324,"d":38},{"s":"Zone 2 (PZ-11)","p":296,"d":50},{"s":"Zone 2 (PZ-11)","p":307,"d":55},
{"s":"Zone 2 (PZ-11)*","p":0,"d":1.3},{"s":"Zone 2 (PZ-11)*","p":290,"d":30.8},{"s":"Zone 2 (PZ-11)*","p":340,"d":37},{"s":"Zone 2 (PZ-11)*","p":376,"d":41.5},{"s":"Zone 2 (PZ-11)*","p":383,"d":45.8},{"s":"Zone 2 (PZ-11)*","p":323,"d":50}
]},
"layer":[
{"mark":{"type":"line","strokeWidth":1.7},
"encoding":{
"x":{"field":"p","type":"quantitative","scale":{"domain":[0,500],"nice":false,"zero":false},
"axis":{"orient":"top","values":[0,50,100,150,200,250,300,350,400,450,500],"labelExpr":"datum.value % 100 === 0 ? datum.label : ''","gridOpacity":{"condition":{"test":"datum.value % 100 !== 0","value":0},"value":1},"tickSize":-5,"labelPadding":8,"labelFont":"Liberation Serif","title":"Pore water pressure, (kPa)","titleFontSize":21,"titleAnchor":"start","titlePadding":29.5}},
"y":{"field":"d","type":"quantitative","scale":{"domain":[0,60],"reverse":true,"nice":false,"zero":false},
"axis":{"orient":"left","values":[0,2.5,5,7.5,10,12.5,15,17.5,20,22.5,25,27.5,30,32.5,35,37.5,40,42.5,45,47.5,50,52.5,55,57.5,60],"labelExpr":"datum.value % 5 === 0 ? datum.label : ''","gridOpacity":{"condition":{"test":"datum.value % 5 !== 0","value":0},"value":1},"tickSize":-5,"labelPadding":12,"labelFont":"Liberation Serif","title":"Depth, (m)","titlePadding":2}},
"order":{"field":"d","type":"quantitative"},
"color":{"field":"s","type":"nominal","scale":{"domain":["Zone 1 (PZ-01)","Zone 1 (PZ-02)","Zone 1 (PZ-03)","Zone 1 (PZ-04)","Zone 1 (PZ-05)","Zone 1 (PZ-06)","gap","Zone 2 (PZ-07)","Zone 2 (PZ-08)","Zone 2 (PZ-09)","Zone 2 (PZ-11)","Zone 2 (PZ-11)*"],"range":["#2f45a8","#2f45a8","#2f45a8","#2f45a8","#2f45a8","#2f45a8","transparent","#111111","#111111","#111111","#111111","#111111"]},
"legend":{"orient":"none","legendX":165,"legendY":9,"title":null,"symbolType":"stroke","symbolSize":900,"symbolStrokeWidth":2,"clipHeight":16,"rowPadding":2,"labelFontSize":14,"labelFont":"Liberation Serif","labelColor":"#000","labelLimit":300,"labelOffset":5,"padding":0,"labelExpr":"datum.label == 'gap' ? '' : replace(datum.label, '*', '')"}},
"strokeDash":{"field":"s","type":"nominal","scale":{"domain":["Zone 1 (PZ-01)","Zone 1 (PZ-02)","Zone 1 (PZ-03)","Zone 1 (PZ-04)","Zone 1 (PZ-05)","Zone 1 (PZ-06)","gap","Zone 2 (PZ-07)","Zone 2 (PZ-08)","Zone 2 (PZ-09)","Zone 2 (PZ-11)","Zone 2 (PZ-11)*"],"range":[[10,3,2,3],[2,5,6,5],[12,3,2,3],[9,5],[5,3],[1,0],[1,0],[9,4],[2,4,6,4],[11,4],[2,2],[8,3,2,3]]},
"legend":{"orient":"none","legendX":165,"legendY":9,"title":null,"symbolType":"stroke","symbolSize":900,"symbolStrokeWidth":2,"clipHeight":16,"rowPadding":2,"labelFontSize":14,"labelFont":"Liberation Serif","labelColor":"#000","labelLimit":300,"labelOffset":5,"padding":0,"labelExpr":"datum.label == 'gap' ? '' : replace(datum.label, '*', '')"}}
}},
{"mark":{"type":"point","opacity":0},
"encoding":{
"x":{"field":"p","type":"quantitative","scale":{"domain":[0,500],"nice":false,"zero":false},
"axis":{"orient":"bottom","values":[0,50,100,150,200,250,300,350,400,450,500],"labels":false,"grid":false,"tickSize":-5,"title":"(b)","titlePadding":66}},
"y":{"field":"d","type":"quantitative","scale":{"domain":[0,60],"reverse":true,"nice":false,"zero":false},
"axis":{"orient":"right","values":[0,2.5,5,7.5,10,12.5,15,17.5,20,22.5,25,27.5,30,32.5,35,37.5,40,42.5,45,47.5,50,52.5,55,57.5,60],"labels":false,"grid":false,"tickSize":-5,"title":null}}
}}
],
"resolve":{"axis":{"x":"independent","y":"independent"}}
}
]
}
